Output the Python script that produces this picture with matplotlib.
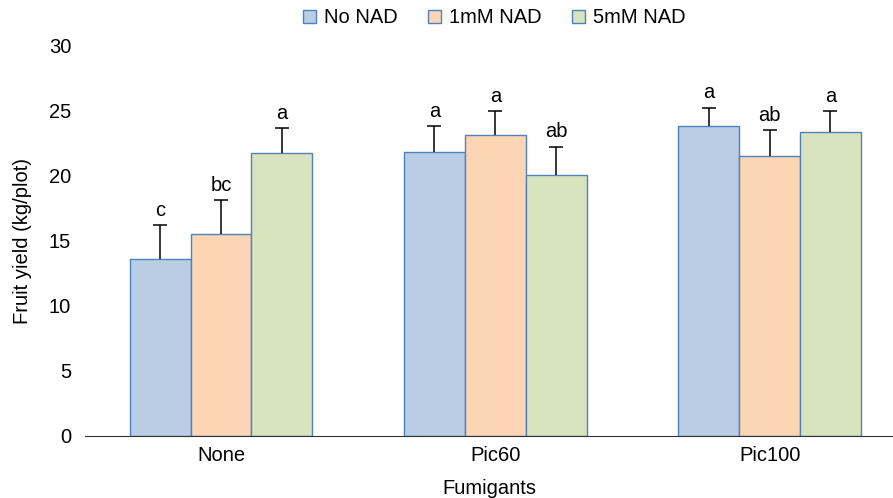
import numpy as np
import matplotlib
matplotlib.use("Agg")
import matplotlib.pyplot as plt

plt.rcParams['font.family'] = ['Liberation Sans', 'DejaVu Sans']

groups = ["None", "Pic60", "Pic100"]
series = ["No NAD", "1mM NAD", "5mM NAD"]
means = {
    "No NAD":  [13.6, 21.8, 23.8],
    "1mM NAD": [15.5, 23.1, 21.5],
    "5mM NAD": [21.7, 20.0, 23.3],
}
errors = {
    "No NAD":  [2.6, 2.0, 1.4],
    "1mM NAD": [2.6, 1.8, 2.0],
    "5mM NAD": [1.9, 2.2, 1.6],
}
letters = {
    "No NAD":  ["c", "a", "a"],
    "1mM NAD": ["bc", "a", "ab"],
    "5mM NAD": ["a", "ab", "a"],
}
fills = ["#b9cde5", "#fcd5b5", "#d7e4bd"]
edge = "#4f81bd"
fs = 14.5

fig = plt.figure(figsize=(8.93, 4.98), dpi=100)
ax = fig.add_axes([0.0952, 0.1245, 0.9048, 0.7851])

x = np.arange(len(groups))
w = 0.222
for i, s in enumerate(series):
    pos = x + (i - 1) * w
    ax.bar(pos, means[s], width=w, color=fills[i], edgecolor=edge,
           linewidth=1.0, label=s, zorder=2)
    _, caps, _ = ax.errorbar(pos, means[s], yerr=[np.zeros(3), errors[s]], fmt='none',
                             ecolor='black', elinewidth=1.1, capsize=5, capthick=1.1,
                             zorder=3)
    caps[0].set_visible(False)  # no cap on the lower side
    for p, m, e, l in zip(pos, means[s], errors[s], letters[s]):
        ax.text(p, m + e + 0.4, l, ha='center', va='bottom', fontsize=fs)

ax.set_xlim(-0.496, 2.45)
ax.set_ylim(0, 30)
ax.set_yticks(range(0, 31, 5))
ax.set_xticks(x)
ax.set_xticklabels(groups)
ax.tick_params(axis='both', length=0, labelsize=fs)
ax.tick_params(axis='y', pad=10)
ax.tick_params(axis='x', pad=7)
for sp in ['top', 'right', 'left']:
    ax.spines[sp].set_visible(False)
ax.spines['bottom'].set_color('#333333')
ax.set_ylabel("Fruit yield (kg/plot)", fontsize=fs, labelpad=12)
ax.set_xlabel("Fumigants", fontsize=fs, labelpad=10)

ax.legend(loc='upper center', bbox_to_anchor=(0.507, 1.14), ncol=3, frameon=False,
          fontsize=fs, handlelength=0.65, handleheight=0.65, handletextpad=0.4,
          columnspacing=1.5)

fig.savefig("out.png", dpi=100)
